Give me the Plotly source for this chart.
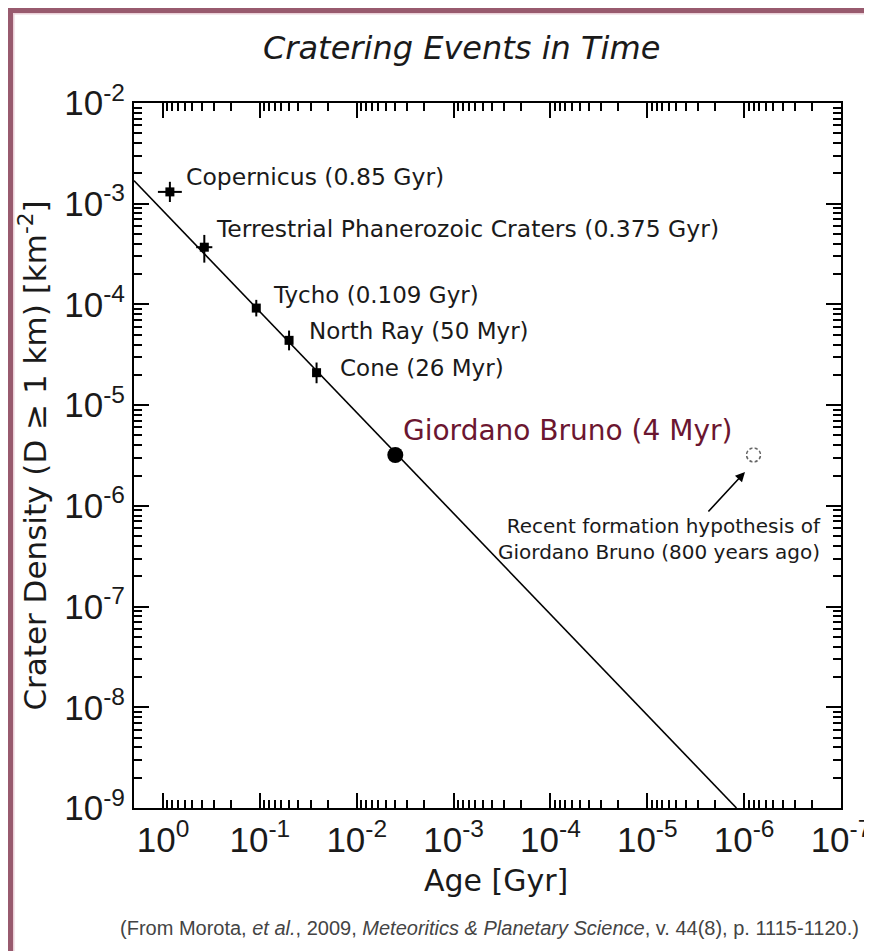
import numpy as np
import plotly.graph_objects as go

# ---------------- data ----------------
crater_names = ["Copernicus", "Terrestrial Phanerozoic Craters", "Tycho", "North Ray", "Cone"]
crater_labels = ["Copernicus (0.85 Gyr)", "Terrestrial Phanerozoic Craters (0.375 Gyr)",
                 "Tycho (0.109 Gyr)", "North Ray (50 Myr)", "Cone (26 Myr)"]
crater_age = [0.85, 0.375, 0.109, 0.05, 0.026]            # Gyr
crater_density = [1.31e-3, 3.7e-4, 9.2e-5, 4.4e-5, 2.1e-5]  # km^-2
density_err_plus = [0.34e-3, 1.2e-4, 1.9e-5, 1.1e-5, 0.55e-5]
density_err_minus = [0.27e-3, 1.1e-4, 1.6e-5, 0.9e-5, 0.45e-5]
age_err_plus = [0.28, 0.08, 0.0, 0.0, 0.0]
age_err_minus = [0.21, 0.065, 0.0, 0.0, 0.0]

gb_age = [0.004]
gb_density = [3.2e-6]
gb_label = "Giordano Bruno (4 Myr)"

hyp_age = [8e-7]          # 800 years ago
hyp_density = [3.2e-6]
hyp_label = "Recent formation hypothesis of<br>Giordano Bruno (800 years ago)"

fit_age = [2.0, 1.2e-6]
fit_density = [1.7e-3, 1.0e-9]

x_tick_exp = [0, -1, -2, -3, -4, -5, -6, -7]
y_tick_exp = [-2, -3, -4, -5, -6, -7, -8, -9]

FONT = "Liberation Sans, Arial, Helvetica, sans-serif"
LFONT = "DejaVu Sans, Liberation Sans, sans-serif"

# the page body has an 8px margin; figure sized to fit the 872x951 window
OFF = 8
W, H = 864, 943
L, R, T, B = 126, 31, 95, 143
PW, PH = W - L - R, H - T - B


def px(xp):  # screenshot pixel -> paper x
    return (xp - OFF - L) / PW


def py(yp):  # screenshot pixel -> paper y
    return (H - B - (yp - OFF)) / PH


fig = go.Figure()

# fit line
fig.add_trace(go.Scatter(x=fit_age, y=fit_density, mode="lines",
                         line=dict(color="black", width=1.6), showlegend=False,
                         hoverinfo="skip"))

# crater points with error bars
fig.add_trace(go.Scatter(
    x=crater_age, y=crater_density, mode="markers",
    marker=dict(symbol="square", size=9, color="black"),
    error_y=dict(type="data", array=density_err_plus, arrayminus=density_err_minus,
                 color="black", thickness=2, width=0),
    error_x=dict(type="data", array=age_err_plus, arrayminus=age_err_minus,
                 color="black", thickness=2, width=0),
    text=crater_names, showlegend=False))

# Giordano Bruno
fig.add_trace(go.Scatter(x=gb_age, y=gb_density, mode="markers",
                         marker=dict(symbol="circle", size=16, color="black"),
                         showlegend=False))

# hypothesis point: open circle, broken into dashes by a white asterisk overlay
fig.add_trace(go.Scatter(x=hyp_age, y=hyp_density, mode="markers",
                         marker=dict(symbol="circle-open", size=14, color="#666666",
                                     line=dict(width=1.6)),
                         showlegend=False))
fig.add_trace(go.Scatter(x=hyp_age, y=hyp_density, mode="markers",
                         marker=dict(symbol="asterisk-open", size=20, color="white",
                                     line=dict(width=2.2)),
                         showlegend=False, hoverinfo="skip"))

# crater labels
shifts = [(14, 15), (10, 18), (15, 13), (18, 9), (21, 5)]
sizes = [23.5, 23.5, 23, 23, 23]
for a, d, lab, (dx, dy), s in zip(crater_age, crater_density, crater_labels, shifts, sizes):
    fig.add_annotation(x=np.log10(a), y=np.log10(d), text=lab, showarrow=False,
                       xanchor="left", yanchor="middle", xshift=dx, yshift=dy,
                       font=dict(family=LFONT, size=s, color="#1a1a1a"))

fig.add_annotation(x=np.log10(gb_age[0]), y=np.log10(gb_density[0]), text=gb_label,
                   showarrow=False, xanchor="left", yanchor="middle", xshift=6, yshift=24,
                   font=dict(family=LFONT, size=28, color="#6b1630"))

fig.add_annotation(x=px(823), y=py(539), xref="paper", yref="paper", text=hyp_label,
                   showarrow=False, xanchor="right", yanchor="middle", align="right",
                   font=dict(family=LFONT, size=20, color="#1a1a1a"))

# arrow towards hypothesis point
fig.add_annotation(x=px(745), y=py(472), xref="paper", yref="paper", text="",
                   showarrow=True, ax=-38, ay=41, axref="pixel", ayref="pixel",
                   arrowhead=2, arrowsize=1.2, arrowwidth=1.6, arrowcolor="black")

# title
fig.add_annotation(x=px(461), y=py(48), xref="paper", yref="paper",
                   text="<i>Cratering Events in Time</i>", showarrow=False,
                   xanchor="center", yanchor="middle",
                   font=dict(family=LFONT, size=32, color="#1a1a1a"))

# x-axis title
fig.add_annotation(x=px(496), y=py(880), xref="paper", yref="paper",
                   text="Age [Gyr]", showarrow=False, xanchor="center", yanchor="middle",
                   font=dict(family=LFONT, size=30, color="#1a1a1a"))

# footer
fig.add_annotation(x=px(490), y=py(928), xref="paper", yref="paper",
                   text="(From Morota, <i>et al.</i>, 2009, <i>Meteoritics &amp; Planetary Science</i>, v. 44(8), p. 1115-1120.)",
                   showarrow=False, xanchor="center", yanchor="middle",
                   font=dict(family=FONT, size=20, color="#444444"))

# frame (mauve border on top and left)
frame_col = "#985a6e"
fig.add_shape(type="rect", xref="paper", yref="paper", x0=px(7), x1=px(13), y0=py(H + 20), y1=py(7),
              fillcolor=frame_col, line=dict(width=0), layer="below")
fig.add_shape(type="rect", xref="paper", yref="paper", x0=px(7), x1=px(W + 20), y0=py(13), y1=py(7),
              fillcolor=frame_col, line=dict(width=0), layer="below")
fig.add_shape(type="rect", xref="paper", yref="paper", x0=px(13), x1=px(14.5), y0=py(H + 20), y1=py(13),
              fillcolor="#ead0d8", line=dict(width=0), layer="below")
fig.add_shape(type="rect", xref="paper", yref="paper", x0=px(13), x1=px(W + 20), y0=py(14.5), y1=py(13),
              fillcolor="#ead0d8", line=dict(width=0), layer="below")


def minor_vals(exps):
    lo, hi = min(exps), max(exps)
    return [m * 10.0 ** e for e in range(lo - 1, hi + 1) for m in range(2, 10)]


axis_common = dict(
    type="log", showgrid=False, zeroline=False,
    showline=True, linecolor="black", linewidth=2, mirror="allticks",
    ticks="inside", ticklen=15, tickwidth=2, tickcolor="black",
    tickfont=dict(family=FONT, size=35, color="#1a1a1a"),
)

fig.update_xaxes(**axis_common, range=[0.3, -7],
                 tickvals=[10.0 ** e for e in x_tick_exp],
                 ticktext=[f"10<sup>{e}</sup>" for e in x_tick_exp],
                 minor=dict(ticks="inside", ticklen=8, tickwidth=1.5, tickcolor="black",
                            showgrid=False, tickvals=minor_vals(x_tick_exp)))
fig.update_yaxes(**axis_common, range=[-9, -2],
                 tickvals=[10.0 ** e for e in y_tick_exp],
                 ticktext=[f"10<sup>{e}</sup>" for e in y_tick_exp],
                 minor=dict(ticks="inside", ticklen=8, tickwidth=1.5, tickcolor="black",
                            showgrid=False, tickvals=minor_vals(y_tick_exp)),
                 title=dict(text="Crater Density (D ≥ 1 km) [km<sup>-2</sup>]",
                            font=dict(family=LFONT, size=31, color="#1a1a1a"), standoff=8))

fig.update_layout(width=W, height=H, margin=dict(l=L, r=R, t=T, b=B, autoexpand=False),
                  plot_bgcolor="white", paper_bgcolor="white", showlegend=False)

fig.write_html("out.html")
